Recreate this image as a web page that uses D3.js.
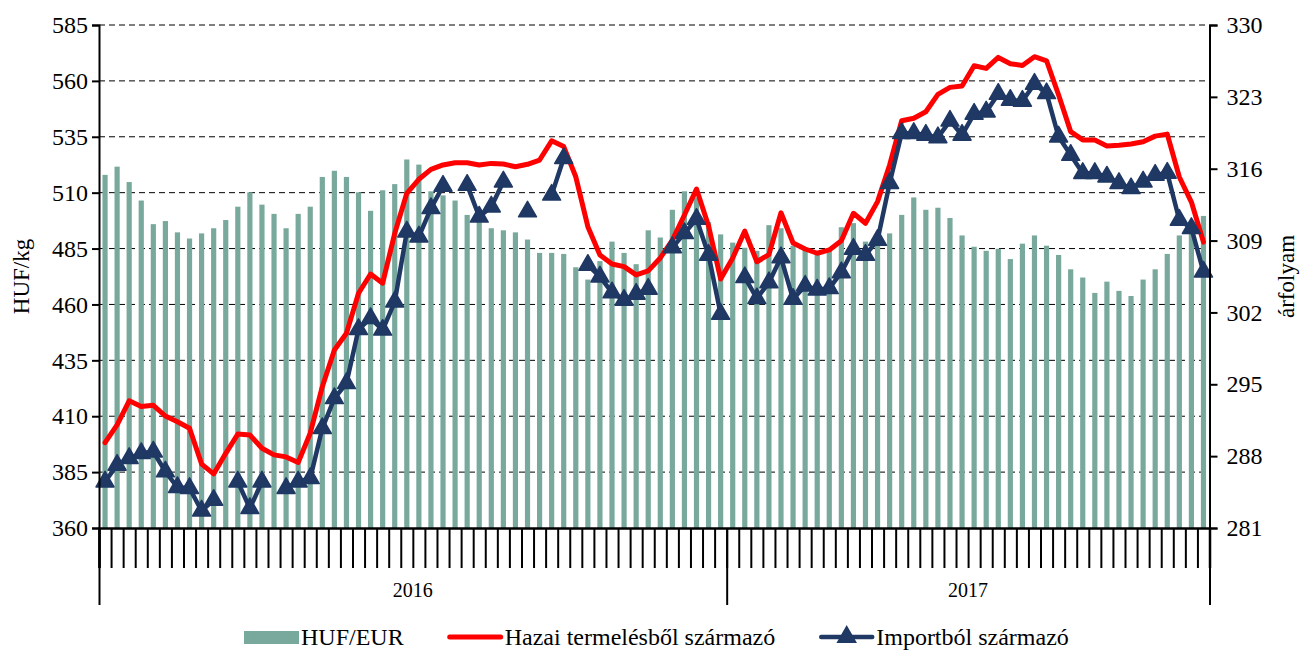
<!DOCTYPE html>
<html>
<head>
<meta charset="utf-8">
<script src="https://cdn.jsdelivr.net/npm/d3@7/dist/d3.min.js"></script>
<style>
    body { margin: 0; background: #fff; }
    svg text { font-family: "Liberation Serif", "Times New Roman", serif; fill: #000; }
</style>
</head>
<body>
<div id="chart"></div>
<script>
const years = ["2016", "2017"],
    weeksPerYear = [52, 40],

    // HUF/EUR (jobb tengely)
    hufEur = [
        315.4, 316.2, 314.7, 312.9, 310.6, 310.9, 309.8, 309.2, 309.7, 310.2,
        311.0, 312.3, 313.7, 312.5, 311.6, 310.2, 311.6, 312.3, 315.2, 315.8,
        315.2, 313.7, 311.9, 313.9, 314.5, 316.9, 316.4, 313.8, 313.4, 312.9,
        311.5, 310.9, 310.2, 310.0, 309.8, 309.1, 307.8, 307.8, 307.7, 306.4,
        305.2, 307.0, 308.9, 307.8, 306.7, 310.0, 309.3, 312.0, 313.8, 313.2,
        310.8, 309.6, 308.8, 308.3, 308.0, 310.5, 310.2, 308.5, 308.2, 307.8,
        308.0, 310.3, 310.7, 308.9, 309.3, 309.7, 311.5, 313.2, 312.0, 312.2,
        311.2, 309.5, 308.4, 308.0, 308.2, 307.2, 308.7, 309.5, 308.5, 307.6,
        306.2, 305.4, 303.9, 305.0, 304.1, 303.6, 305.2, 306.2, 307.7, 309.5,
        310.6, 311.4
    ],

    // Hazai termelésből származó (HUF/kg)
    hazai = [
        398.2, 406.1, 416.9, 414.3, 414.9, 410.1, 407.5, 404.6, 388.6, 384.2,
        393.4, 402.0, 401.6, 395.7, 392.7, 391.8, 389.3, 402.4, 423.2, 439.6,
        447.1, 465.0, 473.6, 469.5, 491.8, 509.7, 516.0, 520.4, 522.4, 523.4,
        523.4, 522.4, 523.1, 522.8, 521.6, 522.7, 524.6, 533.2, 530.6, 517.1,
        494.8, 482.1, 478.1, 476.9, 473.2, 475.0, 480.8, 488.8, 500.0, 511.6,
        495.1, 471.4, 480.8, 492.8, 479.1, 482.3, 501.0, 487.5, 484.8, 482.9,
        484.4, 488.5, 500.8, 496.3, 506.0, 522.4, 542.2, 543.3, 546.2, 554.0,
        557.1, 557.7, 566.8, 565.6, 570.5, 567.7, 566.9, 570.8, 569.0, 553.7,
        537.3, 533.6, 533.6, 530.9, 531.2, 531.8, 532.8, 535.3, 536.2, 517.0,
        505.8, 487.9
    ],

    // Importból származó (HUF/kg), null = nincs adat
    importbol = [
        380.7, 388.2, 391.2, 393.4, 394.1, 385.2, 378.2, 377.8, 367.7, 372.5,
        null, 380.7, 368.8, 380.7, null, 377.8, 380.7, 382.2, 404.6, 418.0,
        424.7, 448.9, 453.8, 448.6, 461.2, 492.5, 490.3, 503.0, 513.0, null,
        513.4, 499.2, 503.7, 514.9, null, 501.5, null, 509.0, 525.4, null,
        477.6, 472.4, 465.3, 462.0, 464.7, 466.9, null, 485.5, 491.8, 498.2,
        482.1, 455.7, null, 472.1, 462.7, 469.8, 481.0, 462.4, 468.3, 466.6,
        467.2, 474.3, 484.8, 482.1, 488.8, 514.2, 536.6, 536.6, 535.8, 534.7,
        542.1, 535.8, 545.2, 546.2, 554.1, 551.4, 551.0, 558.6, 554.4, 535.0,
        526.8, 518.7, 518.7, 517.1, 514.2, 511.9, 514.9, 517.9, 518.8, 497.8,
        494.1, 474.6
    ],

    leftTicks = [360, 385, 410, 435, 460, 485, 510, 535, 560, 585],
    rightTicks = [281, 288, 295, 302, 309, 316, 323, 330],
    legendLabels = ["HUF/EUR", "Hazai termelésből származó", "Importból származó"];

const barColor = "#79a99c",
    redColor = "#ff0000",
    blueColor = "#1f3864",
    width = 1301,
    height = 651,
    margin = {left: 99, right: 1209.5, top: 25, bottom: 528};

// heti kategóriák: év/hét
const weeks = [];
years.forEach((y, k) => {

    d3.range(1, weeksPerYear[k] + 1).forEach((w) => weeks.push(`${y}/${w}`));

});

const svg = d3.select("#chart").append("svg").
    attr("width", width).
    attr("height", height);

const x = d3.scaleBand().
        domain(weeks).
        range([margin.left, margin.right]),
    xi = d3.scaleLinear().
        domain([0, weeks.length]).
        range([margin.left, margin.right]),
    yL = d3.scaleLinear().
        domain([360, 585]).
        range([margin.bottom, margin.top]),
    yR = d3.scaleLinear().
        domain([281, 330]).
        range([margin.bottom, margin.top]),
    cx = (i) => x(weeks[i]) + x.bandwidth() / 2,
    barW = x.bandwidth() * 0.43;

// rácsvonalak
svg.append("g").
    selectAll("line").
    data(leftTicks.slice(1)).
    enter().
    append("line").
    attr("x1", margin.left).
    attr("x2", margin.right).
    attr("y1", (d) => yL(d)).
    attr("y2", (d) => yL(d)).
    attr("stroke", "#000").
    attr("stroke-width", 1).
    attr("stroke-dasharray", "6,4");

// HUF/EUR oszlopok
svg.append("g").
    selectAll("rect").
    data(hufEur).
    enter().
    append("rect").
    attr("x", (d, i) => cx(i) - barW / 2).
    attr("width", barW).
    attr("y", (d) => yR(d)).
    attr("height", (d) => yR(281) - yR(d)).
    attr("fill", barColor);

// hazai vonal
const lineL = d3.line().
    defined((d) => d !== null).
    x((d, i) => cx(i)).
    y((d) => yL(d));

svg.append("path").
    datum(hazai).
    attr("d", lineL).
    attr("fill", "none").
    attr("stroke", redColor).
    attr("stroke-width", 5).
    attr("stroke-linejoin", "round").
    attr("stroke-linecap", "round");

svg.append("path").
    datum(importbol).
    attr("d", lineL).
    attr("fill", "none").
    attr("stroke", blueColor).
    attr("stroke-width", 4.5).
    attr("stroke-linejoin", "round");

const tri = d3.symbol(d3.symbolTriangle, 140);

svg.append("g").
    selectAll("path").
    data(importbol.map((v, i) => ({v, i})).filter((d) => d.v !== null)).
    enter().
    append("path").
    attr("d", tri).
    attr("transform", (d) => `translate(${cx(d.i)},${yL(d.v)})`).
    attr("fill", blueColor).
    attr("stroke", blueColor).
    attr("stroke-width", 1.5).
    attr("stroke-linejoin", "round");

// tengelyek
const axL = svg.append("g").
    attr("transform", `translate(${margin.left},0)`).
    call(d3.axisLeft(yL).tickValues(leftTicks).tickSize(7).tickPadding(4));

const axR = svg.append("g").
    attr("transform", `translate(${margin.right},0)`).
    call(d3.axisRight(yR).tickValues(rightTicks).tickSize(8).tickPadding(9));

const axB = svg.append("g").
    attr("transform", `translate(0,${margin.bottom})`).
    call(d3.axisBottom(xi).tickValues(d3.range(0, weeks.length + 1)).tickSize(40).tickFormat(""));

const axY = svg.append("g").
    attr("transform", `translate(0,${margin.bottom})`).
    call(d3.axisBottom(xi).tickValues([0, weeksPerYear[0], weeks.length]).tickSize(77).tickFormat(""));

[axL, axR].forEach((a) => {

    a.selectAll("text").
        style("font-size", "24px").
        style("font-family", "'Liberation Serif', serif");
    a.selectAll("line").attr("stroke-width", 2);
    a.select(".domain").attr("stroke-width", 2);

});
axB.selectAll("line").attr("stroke-width", 2);
axB.select(".domain").attr("stroke-width", 2.5);
axY.selectAll("line").attr("stroke-width", 2);
axY.select(".domain").remove();

// évek
let start = 0;
years.forEach((y, k) => {

    const mid = (xi(start) + xi(start + weeksPerYear[k])) / 2;
    svg.append("text").
        attr("x", mid).
        attr("y", 597).
        attr("text-anchor", "middle").
        style("font-size", "20px").
        text(y);
    start += weeksPerYear[k];

});

// tengelycímek
svg.append("text").
    attr("transform", `translate(29,${(margin.top + margin.bottom) / 2}) rotate(-90)`).
    attr("text-anchor", "middle").
    style("font-size", "23px").
    text("HUF/kg");

svg.append("text").
    attr("transform", `translate(1294,${(margin.top + margin.bottom) / 2}) rotate(-90)`).
    attr("text-anchor", "middle").
    style("font-size", "23px").
    text("árfolyam");

// jelmagyarázat
const legend = svg.append("g"),
    ly = 637;
let lx = 244;
legendLabels.forEach((label, k) => {

    if (k === 0) {

        legend.append("rect").
            attr("x", lx).
            attr("y", ly - 6).
            attr("width", 55).
            attr("height", 13).
            attr("fill", barColor);

    } else {

        legend.append("line").
            attr("x1", lx + 2).
            attr("x2", lx + 53).
            attr("y1", ly).
            attr("y2", ly).
            attr("stroke", k === 1 ? redColor : blueColor).
            attr("stroke-width", k === 1 ? 5 : 4.5).
            attr("stroke-linecap", "round");
        if (k === 2) {

            legend.append("path").
                attr("d", tri).
                attr("transform", `translate(${lx + 27.5},${ly})`).
                attr("fill", blueColor).
                attr("stroke", blueColor).
                attr("stroke-width", 1.5);

        }

    }
    const t = legend.append("text").
        attr("x", lx + 57).
        attr("y", ly + 8).
        style("font-size", "24px").
        text(label);
    lx += 57 + t.node().getComputedTextLength() + 44;

});
</script>
</body>
</html>
